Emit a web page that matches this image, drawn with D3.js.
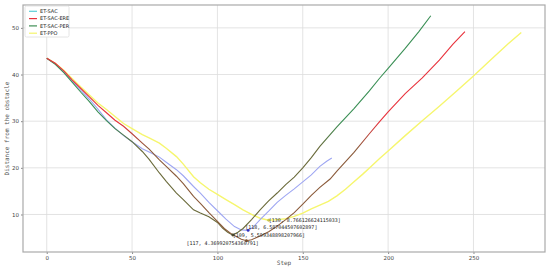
<!DOCTYPE html>
<html>
<head>
<meta charset="utf-8">
<script src="https://cdn.jsdelivr.net/npm/d3@7"></script>
<style>
  body { margin: 0; background: #fff; }
  svg { display: block; }
</style>
</head>
<body>
<div id="chart"></div>
<script>
// data: [step, distance]
const etSac = [[0,43.5],[5,42.3],[10,40.6],[15,38.6],[20,36.6],[25,34.7],[30,32.6],[35,30.3],[40,28.5],[45,26.9],[50,25.6],[56,24.1],[60,23.4],[66,22.3],[70,21.2],[76,19.6],[80,18.3],[86,16.0],[90,14.6],[95,12.6],[100,10.8],[105,9.0],[110,7.4],[114,6.7],[118,6.59],[121,7.3],[125,8.9],[130,10.7],[135,12.6],[140,14.1],[145,15.5],[150,17.0],[155,18.5],[160,20.3],[164,21.4],[167,22.1]];
const etSacEre = [[0,43.5],[5,42.4],[10,40.8],[15,38.8],[20,37.0],[25,35.2],[30,33.4],[35,31.8],[40,30.2],[45,28.9],[50,27.3],[56,25.3],[60,24.0],[66,21.7],[70,20.3],[76,18.2],[80,16.6],[86,13.9],[90,12.4],[95,10.4],[100,8.5],[104,7.0],[108,5.9],[111,5.3],[114,4.7],[117,4.37],[120,4.6],[125,5.4],[130,6.3],[135,7.5],[140,8.9],[145,10.4],[150,12.2],[155,14.1],[160,15.8],[166,17.6],[170,19.3],[180,23.3],[189,27.3],[195,29.9],[200,32.0],[210,35.9],[220,39.3],[230,43.1],[238,46.5],[245,49.2]];
const etSacPer = [[0,43.5],[5,42.2],[10,40.4],[15,38.3],[20,36.2],[25,34.2],[30,32.0],[35,30.1],[40,28.4],[45,27.0],[50,25.6],[56,23.5],[60,21.8],[66,18.9],[70,17.1],[76,14.6],[80,13.2],[86,11.0],[90,10.3],[95,9.5],[100,8.3],[103,7.1],[106,6.2],[109,5.6],[112,6.2],[115,7.0],[120,8.9],[125,11.0],[130,12.9],[135,14.6],[140,16.4],[145,18.0],[150,20.0],[155,22.2],[160,24.6],[170,28.8],[180,32.7],[189,36.5],[195,39.2],[200,41.3],[210,45.6],[218,49.2],[225,52.6]];
const etPpo = [[0,43.5],[5,42.4],[10,40.9],[15,39.1],[20,37.3],[25,35.6],[30,33.9],[35,32.5],[40,31.0],[45,29.5],[50,28.4],[56,27.1],[60,26.4],[66,25.3],[70,24.2],[76,22.4],[80,20.8],[86,18.1],[90,16.8],[95,15.4],[100,14.3],[105,13.2],[110,12.1],[115,11.0],[120,10.0],[125,9.2],[130,8.77],[135,8.9],[140,9.1],[145,9.6],[150,10.3],[155,11.2],[160,12.0],[165,12.8],[170,14.0],[175,15.4],[180,17.0],[185,18.6],[190,20.3],[195,22.0],[200,23.6],[210,26.9],[220,30.1],[230,33.2],[240,36.4],[250,39.7],[260,43.1],[270,46.5],[278,49.0]];

const seriesNames = ["ET-SAC", "ET-SAC-ERE", "ET-SAC-PER", "ET-PPO"];
const xTicks = [0, 50, 100, 150, 200, 250];
const yTicks = [10, 20, 30, 40, 50];
// minimum points that carry a text label
const minLabels = ["[117, 4.369920754360791]", "[109, 5.599348898207966]", "[118, 6.587044507602897]", "[130, 8.766126624115033]"];
const minPoints = [[117, 4.37], [109, 5.6], [118, 6.59], [130, 8.77]];

const width = 550, height = 268;
const margin = { top: 5, right: 5, bottom: 16, left: 23 };

const svg = d3.select("#chart").append("svg")
    .attr("width", width)
    .attr("height", height);

const x = d3.scaleLinear().domain([-13.9, 291.9]).range([margin.left, width - margin.right]);
const y = d3.scaleLinear().domain([1.96, 54.9]).range([height - margin.bottom, margin.top]);

// grid
svg.append("g").selectAll("line.vg").data(xTicks).join("line")
    .attr("x1", d => x(d)).attr("x2", d => x(d))
    .attr("y1", y.range()[0]).attr("y2", y.range()[1])
    .attr("stroke", "#dcdcdc").attr("stroke-width", 0.8);
svg.append("g").selectAll("line.hg").data(yTicks).join("line")
    .attr("y1", d => y(d)).attr("y2", d => y(d))
    .attr("x1", x.range()[0]).attr("x2", x.range()[1])
    .attr("stroke", "#dcdcdc").attr("stroke-width", 0.8);

// axes
const xAxis = svg.append("g")
    .attr("transform", `translate(0,${height - margin.bottom})`)
    .call(d3.axisBottom(x).tickValues(xTicks).tickSize(2).tickPadding(2));
const yAxis = svg.append("g")
    .attr("transform", `translate(${margin.left},0)`)
    .call(d3.axisLeft(y).tickValues(yTicks).tickSize(2).tickPadding(2));
[xAxis, yAxis].forEach(a => {
    a.select(".domain").remove();
    a.selectAll(".tick line").attr("stroke", "#888");
    a.selectAll("text").attr("font-family", "DejaVu Sans").attr("font-size", 5.5).attr("fill", "#444");
});

// gradients: red/green lines look brownish/olive in the lower part
const defs = svg.append("defs");
function addGrad(id, top, bottom) {
    const g = defs.append("linearGradient").attr("id", id)
        .attr("gradientUnits", "userSpaceOnUse")
        .attr("x1", 0).attr("x2", 0)
        .attr("y1", y(30)).attr("y2", y(24));
    g.append("stop").attr("offset", 0).attr("stop-color", top);
    g.append("stop").attr("offset", 1).attr("stop-color", bottom);
}
addGrad("gradEre", "#e8323c", "#8a5a3a");
addGrad("gradPer", "#3a8f55", "#6a6a3a");

const line = d3.line().x(d => x(d[0])).y(d => y(d[1]));

const seriesData = [etPpo, etSac, etSacPer, etSacEre];
const seriesStroke = ["#f6f66e", "#9ea6f2", "url(#gradPer)", "url(#gradEre)"];
const seriesWidth = [1.4, 1.1, 1.1, 1.1];

svg.append("g").selectAll("path").data(seriesData).join("path")
    .attr("d", line)
    .attr("fill", "none")
    .attr("stroke", (d, i) => seriesStroke[i])
    .attr("stroke-width", (d, i) => seriesWidth[i]);

// min markers + labels
const markerColor = ["#7a5030", "#4a4a30", "#3030c0", "#c8c850"];
const labelDx = [-60, 0, -3, 0];
const labelDy = [4, 2, -1, 2];
svg.append("g").selectAll("circle").data(minPoints).join("circle")
    .attr("cx", d => x(d[0])).attr("cy", d => y(d[1]))
    .attr("r", 1.4)
    .attr("fill", (d, i) => markerColor[i]);
svg.append("g").selectAll("text").data(minPoints).join("text")
    .attr("x", (d, i) => x(d[0]) + labelDx[i])
    .attr("y", (d, i) => y(d[1]) + labelDy[i])
    .attr("font-family", "DejaVu Sans Mono")
    .attr("font-size", 5)
    .attr("fill", "#222")
    .text((d, i) => minLabels[i]);

// frame
svg.append("rect")
    .attr("x", x.range()[0]).attr("y", y.range()[1])
    .attr("width", x.range()[1] - x.range()[0])
    .attr("height", y.range()[0] - y.range()[1])
    .attr("fill", "none").attr("stroke", "#aaa").attr("stroke-width", 1.2);

// axis labels
svg.append("text")
    .attr("x", (x.range()[0] + x.range()[1]) / 2)
    .attr("y", height - 3)
    .attr("text-anchor", "middle")
    .attr("font-family", "DejaVu Sans Mono").attr("font-size", 6).attr("fill", "#555")
    .text("Step");
svg.append("text")
    .attr("transform", `translate(9,${(y.range()[0] + y.range()[1]) / 2}) rotate(-90)`)
    .attr("text-anchor", "middle")
    .attr("font-family", "DejaVu Sans Mono").attr("font-size", 6).attr("fill", "#555")
    .text("Distance from the obstacle");

// legend
const legendColor = ["#5ccfd6", "#e8323c", "#3f8f55", "#f4f46a"];
const legend = svg.append("g").attr("transform", "translate(25,6)");
legend.append("rect")
    .attr("width", 44).attr("height", 31).attr("rx", 1.5)
    .attr("fill", "#fff").attr("stroke", "#ddd").attr("stroke-width", 0.8);
seriesNames.forEach((name, i) => {
    const row = legend.append("g").attr("transform", `translate(0,${5.3 + i * 7.3})`);
    row.append("line").attr("x1", 4).attr("x2", 12)
        .attr("stroke", legendColor[i]).attr("stroke-width", 1.2);
    row.append("text").attr("x", 15).attr("y", 1.8)
        .attr("font-family", "DejaVu Sans").attr("font-size", 5).attr("fill", "#222")
        .text(name);
});
</script>
</body>
</html>
